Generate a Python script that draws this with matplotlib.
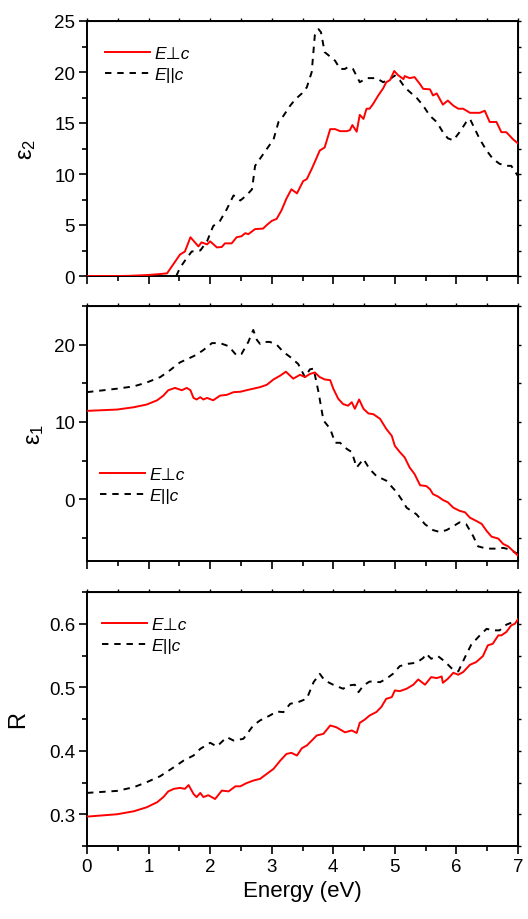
import numpy as np
import matplotlib
matplotlib.use("Agg")
import matplotlib.pyplot as plt
from matplotlib.ticker import MultipleLocator, FormatStrFormatter

plt.rcParams['font.family'] = ['Liberation Sans', 'DejaVu Sans']
plt.rcParams['mathtext.default'] = 'regular'

# ---------------- data ----------------
# eps2, E perpendicular c
e2_perp_E = [0, 0.5, 0.7, 1.0, 1.2, 1.30, 1.51, 1.59, 1.68, 1.81, 1.86, 1.95, 2.0, 2.11, 2.19, 2.24, 2.35,
             2.43, 2.51, 2.57, 2.62, 2.73, 2.86, 2.92, 3.0, 3.08, 3.16, 3.24, 3.32, 3.41, 3.51, 3.57, 3.65,
             3.73, 3.78, 3.86, 3.95, 4.03, 4.11, 4.22, 4.27, 4.31, 4.38, 4.43, 4.49, 4.54, 4.59, 4.65, 4.73,
             4.81, 4.86, 4.92, 4.99, 5.05, 5.14, 5.16, 5.24, 5.32, 5.41, 5.46, 5.57, 5.62, 5.68, 5.78, 5.86,
             5.95, 6.03, 6.11, 6.22, 6.38, 6.46, 6.54, 6.65, 6.73, 6.81, 6.92, 7.0]
e2_perp_V = [0, 0, 0.02, 0.1, 0.2, 0.26, 2.1, 2.4, 3.8, 2.9, 3.3, 3.1, 3.4, 2.8, 2.85, 3.2, 3.2,
             3.8, 3.9, 4.2, 4.1, 4.6, 4.65, 5.0, 5.4, 5.6, 6.45, 7.6, 8.5, 8.1, 9.3, 9.5, 10.5,
             11.6, 12.3, 12.6, 14.4, 14.4, 14.2, 14.2, 14.3, 14.8, 14.15, 15.8, 15.4, 16.4, 16.4, 16.9, 17.7,
             18.4, 19.0, 19.2, 20.1, 19.7, 19.3, 19.6, 19.4, 19.5, 18.8, 18.35, 18.3, 17.7, 17.9, 16.8, 17.2,
             16.7, 16.4, 16.4, 16.0, 16.0, 16.2, 15.1, 15.1, 14.1, 14.1, 13.4, 13.0]

# eps2, E parallel c
e2_par_E = [1.45, 1.51, 1.59, 1.70, 1.84, 1.95, 2.05, 2.16, 2.27, 2.38, 2.49, 2.59, 2.68, 2.73, 2.81,
            2.92, 3.03, 3.11, 3.19, 3.30, 3.38, 3.49, 3.57, 3.65, 3.70, 3.76, 3.80, 3.86, 3.95, 4.03,
            4.11, 4.19, 4.24, 4.32, 4.43, 4.54, 4.70, 4.81, 4.92, 5.0, 5.08, 5.16, 5.27, 5.35, 5.46,
            5.57, 5.68, 5.78, 5.86, 5.95, 6.05, 6.16, 6.22, 6.30, 6.38, 6.49, 6.59, 6.70, 6.81, 6.89, 7.0]
e2_par_V = [0.0, 0.8, 1.5, 2.4, 2.5, 3.4, 4.9, 5.4, 6.55, 7.9, 7.4, 7.9, 8.5, 10.8, 11.5,
            12.45, 13.4, 15.1, 15.7, 16.7, 17.3, 17.9, 18.5, 20.0, 23.6, 24.2, 23.9, 21.95, 21.5, 21.1,
            20.3, 20.3, 20.5, 20.3, 19.0, 19.4, 19.4, 19.0, 19.3, 19.65, 19.2, 18.5, 17.9, 17.5, 16.7,
            15.7, 15.1, 14.1, 13.5, 13.3, 14.1, 15.1, 15.4, 14.4, 13.4, 12.3, 11.5, 11.0, 10.8, 10.8, 9.8]

# eps1, E perpendicular c
e1_perp_E = [0, 0.49, 0.76, 0.97, 1.14, 1.24, 1.32, 1.43, 1.54, 1.62, 1.68, 1.73, 1.78, 1.84, 1.89, 1.95,
             2.05, 2.16, 2.27, 2.38, 2.49, 2.59, 2.70, 2.81, 2.92, 3.03, 3.14, 3.23, 3.35, 3.46, 3.54,
             3.62, 3.70, 3.78, 3.86, 3.95, 4.0, 4.08, 4.16, 4.24, 4.30, 4.35, 4.42, 4.49, 4.57, 4.65,
             4.76, 4.86, 4.95, 5.0, 5.08, 5.16, 5.24, 5.32, 5.41, 5.51, 5.57, 5.62, 5.70, 5.78, 5.86,
             5.95, 6.05, 6.14, 6.22, 6.32, 6.41, 6.49, 6.57, 6.68, 6.76, 6.84, 6.92, 7.0]
e1_perp_V = [11.43, 11.6, 11.9, 12.25, 12.8, 13.4, 14.1, 14.4, 14.1, 14.4, 14.1, 13.1, 12.9, 13.2, 12.9, 13.1,
             12.8, 13.4, 13.5, 13.85, 13.9, 14.1, 14.3, 14.5, 14.8, 15.5, 16.0, 16.5, 15.6, 16.1, 15.8,
             16.2, 16.4, 15.8, 15.5, 15.4, 14.3, 13.0, 12.3, 12.1, 12.55, 11.7, 12.9, 11.7, 11.1, 11.0,
             10.4, 9.1, 8.2, 6.9, 6.1, 5.4, 4.1, 3.25, 1.8, 1.7, 1.3, 0.65, 0.35, -0.1, -0.4,
             -1.1, -1.5, -1.7, -2.4, -2.8, -3.2, -4.1, -4.85, -5.1, -5.8, -6.1, -6.7, -7.3]

# eps1, E parallel c
e1_par_E = [0, 0.49, 0.76, 0.97, 1.19, 1.35, 1.51, 1.65, 1.78, 1.89, 2.03, 2.16, 2.30, 2.43, 2.51, 2.62,
            2.70, 2.76, 2.81, 2.86, 2.97, 3.08, 3.19, 3.30, 3.43, 3.54, 3.62, 3.68, 3.76, 3.84, 3.95,
            4.03, 4.11, 4.22, 4.30, 4.38, 4.49, 4.59, 4.70, 4.86, 5.03, 5.14, 5.19, 5.35, 5.49, 5.62,
            5.73, 5.84, 5.95, 6.05, 6.16, 6.27, 6.35, 6.49, 6.65, 6.76, 6.86, 7.0]
e1_par_V = [13.85, 14.3, 14.6, 15.1, 15.8, 16.7, 17.7, 18.2, 18.7, 19.3, 20.2, 20.2, 19.8, 18.6, 18.8, 20.35,
            21.9, 20.6, 20.1, 20.35, 20.35, 20.0, 19.05, 18.4, 17.5, 15.8, 16.8, 16.9, 13.85, 10.2, 9.1,
            7.3, 7.3, 6.5, 6.1, 4.1, 5.2, 3.9, 3.0, 2.4, 0.9, -0.4, -1.1, -1.95, -3.25, -4.0,
            -4.25, -4.0, -3.5, -3.0, -3.25, -4.75, -6.1, -6.4, -6.4, -6.3, -6.5, -7.1]

# reflectivity, E perpendicular c
r_perp_E = [0, 0.49, 0.76, 0.97, 1.14, 1.24, 1.32, 1.41, 1.51, 1.59, 1.65, 1.73, 1.78, 1.84, 1.89, 1.97,
            2.08, 2.19, 2.30, 2.41, 2.49, 2.59, 2.70, 2.81, 2.92, 3.03, 3.14, 3.24, 3.32, 3.41, 3.49,
            3.57, 3.65, 3.73, 3.84, 3.95, 4.05, 4.19, 4.30, 4.38, 4.43, 4.51, 4.59, 4.70, 4.78, 4.86,
            4.95, 5.0, 5.08, 5.19, 5.30, 5.38, 5.49, 5.59, 5.68, 5.76, 5.78, 5.86, 5.95, 6.03, 6.11,
            6.22, 6.32, 6.43, 6.51, 6.59, 6.68, 6.73, 6.81, 6.89, 6.95, 7.0]
r_perp_V = [0.2963, 0.300, 0.3047, 0.311, 0.319, 0.327, 0.336, 0.340, 0.3415, 0.340, 0.346, 0.332, 0.327, 0.3336, 0.327, 0.330,
            0.324, 0.3373, 0.336, 0.344, 0.344, 0.349, 0.353, 0.3557, 0.3636, 0.3715, 0.3846, 0.395, 0.3967, 0.3925, 0.404,
            0.4083, 0.416, 0.424, 0.4266, 0.4398, 0.437, 0.429, 0.432, 0.428, 0.444, 0.449, 0.4555, 0.461, 0.469, 0.4818,
            0.4845, 0.495, 0.4939, 0.4976, 0.504, 0.5123, 0.504, 0.516, 0.5144, 0.517, 0.507, 0.5133, 0.5228, 0.5197, 0.524,
            0.5354, 0.5396, 0.549, 0.566, 0.5685, 0.5817, 0.5817, 0.587, 0.5974, 0.600, 0.607]

# reflectivity, E parallel c
r_par_E = [0, 0.49, 0.76, 0.97, 1.19, 1.41, 1.57, 1.73, 1.84, 2.0, 2.11, 2.27, 2.38, 2.54, 2.70, 2.81,
           2.97, 3.08, 3.19, 3.30, 3.43, 3.57, 3.68, 3.78, 3.86, 4.0, 4.16, 4.24, 4.35, 4.41, 4.49,
           4.59, 4.76, 4.86, 4.97, 5.08, 5.22, 5.35, 5.46, 5.51, 5.59, 5.70, 5.81, 5.92, 6.03, 6.14,
           6.24, 6.38, 6.49, 6.59, 6.70, 6.81, 6.92, 7.0]
r_par_V = [0.3336, 0.3368, 0.3426, 0.3505, 0.360, 0.374, 0.3846, 0.3925, 0.403, 0.4125, 0.4067, 0.4214, 0.4161, 0.4188, 0.4398, 0.4477,
           0.4555, 0.4618, 0.4608, 0.474, 0.4766, 0.482, 0.508, 0.5212, 0.5107, 0.5039, 0.4976, 0.5028, 0.504, 0.4923, 0.5028,
           0.509, 0.508, 0.5133, 0.5212, 0.5333, 0.537, 0.5386, 0.546, 0.5528, 0.5449, 0.549, 0.5407, 0.530, 0.5249, 0.5475,
           0.567, 0.5817, 0.592, 0.5896, 0.5896, 0.5985, 0.6027, 0.604]

label_perp = 'E⊥c'
label_par = 'E||c'
x_label = 'Energy (eV)'
y_labels = ['ε$_2$', 'ε$_1$', 'R']

# ---------------- figure ----------------
fig = plt.figure(figsize=(5.28, 9.2), dpi=100)
left, width = 87 / 528, 431 / 528
rects = [(277, 255), (562, 255), (847, 254)]  # bottom pixel, height pixel
axes = [fig.add_axes([left, 1 - b / 920, width, h / 920]) for b, h in rects]

red = '#ff0000'
lw = 1.4
dash = (3.3, 3.0)

series = [
    (e2_perp_E, e2_perp_V, e2_par_E, e2_par_V),
    (e1_perp_E, e1_perp_V, e1_par_E, e1_par_V),
    (r_perp_E, r_perp_V, r_par_E, r_par_V),
]
ylims = [(0, 25), (-8, 25), (0.25, 0.65)]
ymaj = [5, 10, 0.1]
ymin = [2.5, 5, 0.05]
yfmt = [None, None, '%.1f']
legend_pos = [(0.042, 0.831), (0.030, 0.298), (0.035, 0.831)]
ylabelpads = [12, 6, 14]

leg_prop = {'family': ['Liberation Sans', 'DejaVu Sans'], 'style': 'italic', 'size': 12.5}

ident = (lambda v: v, lambda v: v)

for i, ax in enumerate(axes):
    pe, pv, qe, qv = series[i]
    ax.plot(pe, pv, color=red, lw=lw, label=label_perp, zorder=3)
    ax.plot(qe, qv, color='black', lw=lw, dashes=dash, label=label_par, zorder=2)
    ax.set_xlim(0, 7)
    ax.set_ylim(*ylims[i])
    ax.xaxis.set_major_locator(MultipleLocator(1))
    ax.xaxis.set_minor_locator(MultipleLocator(0.5))
    ax.yaxis.set_major_locator(MultipleLocator(ymaj[i]))
    ax.yaxis.set_minor_locator(MultipleLocator(ymin[i]))
    if yfmt[i]:
        ax.yaxis.set_major_formatter(FormatStrFormatter(yfmt[i]))
    for s in ax.spines.values():
        s.set_linewidth(1.4)
    ax.tick_params(which='both', direction='out', width=1.2, labelsize=13.5, colors='black')
    ax.tick_params(which='major', length=5.5, pad=3)
    ax.tick_params(which='minor', length=3.5)
    if i < 2:
        ax.tick_params(axis='x', labelbottom=False)
    # short mirror ticks on top and right
    sx = ax.secondary_xaxis('top', functions=ident)
    sx.xaxis.set_major_locator(MultipleLocator(1))
    sx.xaxis.set_minor_locator(MultipleLocator(0.5))
    sx.tick_params(which='both', direction='out', length=2, width=1.0, labeltop=False)
    sy = ax.secondary_yaxis('right', functions=ident)
    sy.yaxis.set_major_locator(MultipleLocator(ymaj[i]))
    sy.yaxis.set_minor_locator(MultipleLocator(ymin[i]))
    sy.tick_params(which='both', direction='out', length=2, width=1.0, labelright=False)
    ax.set_ylabel(y_labels[i], fontsize=17, labelpad=ylabelpads[i])
    ax.legend(loc='center left', bbox_to_anchor=legend_pos[i], frameon=False,
              borderpad=0, borderaxespad=0, handlelength=2.6, handletextpad=0.25,
              labelspacing=0.35, prop=leg_prop)

axes[2].set_xlabel(x_label, fontsize=16, labelpad=4)

fig.savefig('out.png', dpi=100)
